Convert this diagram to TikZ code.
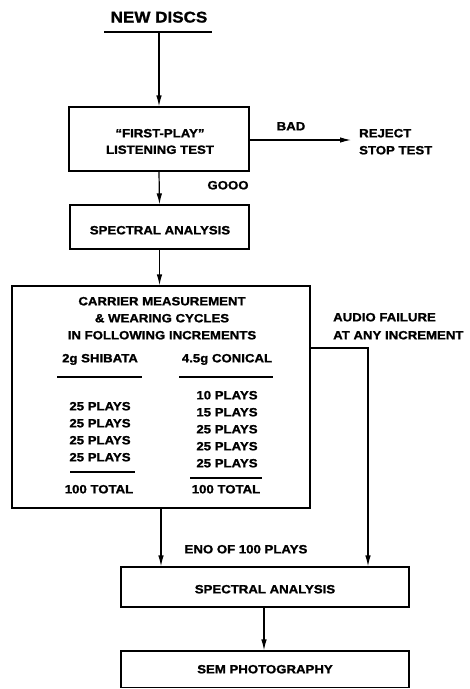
\documentclass[tikz,border=0pt]{standalone}
\usepackage{fontspec}
\setmainfont{Liberation Sans}[FakeStretch=1.1, BoldFeatures={FakeBold=1.3}]
\usetikzlibrary{arrows.meta}
\begin{document}
\begin{tikzpicture}[x=1pt,y=-1pt,
  lbl/.style={font=\bfseries\fontsize{12}{14}\selectfont, inner sep=0pt, text height=8.7pt, text depth=0pt},
  ttl/.style={font=\bfseries\fontsize{15.5}{18}\selectfont, inner sep=0pt, text height=11pt, text depth=0pt},
  box/.style={draw, line width=1.2pt, inner sep=0pt},
  arr/.style={-{Latex[length=11pt,width=5.5pt]}, line width=1.2pt},
  ln/.style={line width=1.2pt}]
\useasboundingbox (0,0) rectangle (470,689);

% title
\node[ttl] (nd) at (159,17) {NEW DISCS};
\coordinate (ulL) at (104,32);
\coordinate (ulR) at (212,32);
\draw[ln] (ulL) -- (ulR);
\coordinate (ndb) at (159,32);

% boxes
\node[box, minimum width=180pt, minimum height=64pt] (b1) at (159,139) {};
\node[box, minimum width=179pt, minimum height=44pt] (b2) at (159.5,227) {};
\node[box, minimum width=298pt, minimum height=222pt] (big) at (161,397) {};
\node[box, minimum width=288pt, minimum height=40pt] (s2) at (265,587) {};
\node[box, minimum width=288pt, minimum height=36.5pt] (sem) at (265,669.25) {};

% box texts
\node[lbl] (t1a) at (160,133) {``FIRST-PLAY''};
\node[lbl] (t1b) at (160,149.5) {LISTENING TEST};
\node[lbl] (t2) at (160,230) {SPECTRAL ANALYSIS};
\node[lbl] (c1) at (162,301) {CARRIER MEASUREMENT};
\node[lbl] (c2) at (162,318) {\& WEARING CYCLES};
\node[lbl] (c3) at (162,335) {IN FOLLOWING INCREMENTS};
\node[lbl] (shh) at (100,358) {2g SHIBATA};
\node[lbl] (coh) at (227,358) {4.5g CONICAL};
\draw[ln] (57,377) -- (142,377);
\draw[ln] (179,377) -- (273,377);
\foreach \y [count=\i] in {406,423,440,457}
  \node[lbl] (sh\i) at (100,\y) {25 PLAYS};
\node[lbl] (co1) at (227,395) {10 PLAYS};
\node[lbl] (co2) at (227,412) {15 PLAYS};
\foreach \y [count=\i from 3] in {429,446,463}
  \node[lbl] (co\i) at (227,\y) {25 PLAYS};
\draw[ln] (70,472) -- (135,472);
\draw[ln] (190,478) -- (262,478);
\node[lbl] (sht) at (99,489) {100 TOTAL};
\node[lbl] (cot) at (226,489) {100 TOTAL};
\node[lbl] (t4) at (265,589) {SPECTRAL ANALYSIS};
\node[lbl] (t5) at (265,669) {SEM PHOTOGRAPHY};

% side labels
\node[lbl] (bad) at (291,126) {BAD};
\node[lbl, anchor=west] (rej1) at (359,133) {REJECT};
\node[lbl, anchor=west] (rej2) at (359,150) {STOP TEST};
\node[lbl] (good) at (228,185) {GOOO};
\node[lbl, anchor=west] (af1) at (333,317) {AUDIO FAILURE};
\node[lbl, anchor=west] (af2) at (333,335) {AT ANY INCREMENT};
\node[lbl] (end) at (246,549) {ENO OF 100 PLAYS};

% connectors
\coordinate (rejpt) at (351,140);
\coordinate (afs) at (310,348);
\coordinate (afc) at (368,348);
\draw[arr] (ndb) -- (b1.north);
\draw[arr] (b1.east |- rejpt) -- (rejpt);
\draw[arr] (b1.south) -- (b2.north);
\draw[arr] (b2.south) -- (b2.south |- big.north);
\draw[arr] (big.south) -- (big.south |- s2.north);
\draw[arr] (afs) -- (afc) -- (afc |- s2.north);
\draw[arr] (s2.south -| 264,0) -- (264,0 |- sem.north);
\end{tikzpicture}
\end{document}
